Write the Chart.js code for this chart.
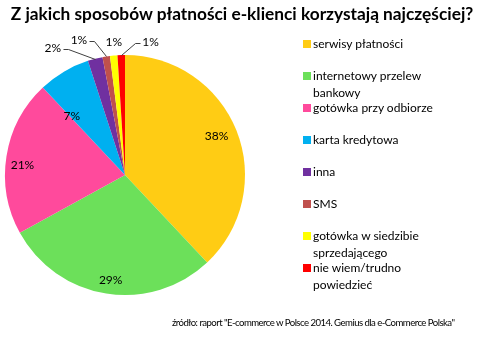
<!DOCTYPE html>
<html lang="pl">
<head>
<meta charset="utf-8">
<script src="https://cdn.jsdelivr.net/npm/chart.js@4/dist/chart.umd.min.js"></script>
<style>
  html, body { margin: 0; padding: 0; background: #fff; }
  #wrap { position: relative; width: 484px; height: 337px; overflow: hidden; font-family: Lato, "Open Sans", sans-serif; color: #000; }
  #chart { position: absolute; left: 0; top: 0; }
  #title { position: absolute; left: 0; top: 3px; width: 484px; text-align: center; font-weight: bold; font-size: 17.3px; white-space: nowrap; }
  #legend { position: absolute; left: 303px; top: 36px; font-size: 12px; line-height: 16.5px; }
  .item { position: absolute; left: 0; width: 170px; }
  .swatch { position: absolute; left: 0; top: 4px; width: 8px; height: 8px; }
  .lbl { position: absolute; left: 10px; white-space: nowrap; }
  #source { position: absolute; left: 172px; top: 317px; font-size: 9.6px; white-space: nowrap; }
</style>
</head>
<body>
<div id="wrap">
  <canvas id="chart" width="484" height="337"></canvas>
  <div id="title">Z jakich sposobów płatności e-klienci korzystają najczęściej?</div>
  <div id="legend"></div>
  <div id="source">źródło: raport "E-commerce w Polsce 2014. Gemius dla e-Commerce Polska"</div>
</div>
<script>
// Payment methods and their share of answers (%)
const categories = [
  ['serwisy płatności'],
  ['internetowy przelew', 'bankowy'],
  ['gotówka przy odbiorze'],
  ['karta kredytowa'],
  ['inna'],
  ['SMS'],
  ['gotówka w siedzibie', 'sprzedającego'],
  ['nie wiem/trudno', 'powiedzieć']
];
const shares = [38, 29, 21, 7, 2, 1, 1, 1];
const sliceColors = ['#FFCC14', '#6CE05A', '#FF4A9C', '#00B0F0', '#7030A0', '#C0504D', '#FFFF00', '#FF0000'];

// Label placement: labels inside the wide slices sit on the mid-angle ray
// (radial factor f, small nudge dx/dy); thin slices get elbowed callouts.
const insideLabels = {
  0: { f: 0.82, dx: 0, dy: -3 },
  1: { f: 0.87, dx: 2, dy: 2 },
  2: { f: 0.84, dx: -3, dy: 6 },
  3: { f: 0.64, dx: -14, dy: 7 }
};
const callouts = {
  4: { ex: -27, ey: -10, side: -1 },
  5: { ex: -12, ey: -15, side: -1 },
  6: { ex: 0, ey: -13, side: 0 },
  7: { ex: 14, ey: -12, side: 1 }
};

const sliceLabels = {
  id: 'sliceLabels',
  afterDatasetsDraw(chart) {
    const ctx = chart.ctx;
    const meta = chart.getDatasetMeta(0);
    const values = chart.data.datasets[0].data;
    ctx.save();
    ctx.font = '12px Lato, "Open Sans", sans-serif';
    ctx.fillStyle = '#000';
    ctx.strokeStyle = '#404040';
    ctx.lineWidth = 1;
    ctx.textBaseline = 'middle';
    meta.data.forEach((arc, i) => {
      const p = arc.getProps(['x', 'y', 'startAngle', 'endAngle', 'outerRadius'], true);
      const mid = (p.startAngle + p.endAngle) / 2;
      const text = values[i] + '%';
      const inside = insideLabels[i];
      if (inside) {
        const d = p.outerRadius * inside.f;
        ctx.textAlign = 'center';
        ctx.fillText(text, p.x + Math.cos(mid) * d + inside.dx, p.y + Math.sin(mid) * d + inside.dy);
        return;
      }
      const c = callouts[i];
      const ax = p.x + Math.cos(mid) * p.outerRadius;
      const ay = p.y + Math.sin(mid) * p.outerRadius;
      const ex = ax + c.ex, ey = ay + c.ey;
      if (c.side === 0) {
        ctx.textAlign = 'center';
        ctx.fillText(text, ex, ey);
        return;
      }
      const hx = ex + c.side * 5;
      ctx.beginPath();
      ctx.moveTo(Math.round(ax) + 0.5, Math.round(ay) + 0.5);
      ctx.lineTo(Math.round(ex) + 0.5, Math.round(ey) + 0.5);
      ctx.lineTo(Math.round(hx) + 0.5, Math.round(ey) + 0.5);
      ctx.stroke();
      ctx.textAlign = c.side < 0 ? 'right' : 'left';
      ctx.fillText(text, hx + c.side * 2, ey - 1);
    });
    ctx.restore();
  }
};

new Chart(document.getElementById('chart'), {
  type: 'pie',
  data: {
    labels: categories.map(l => l.join(' ')),
    datasets: [{
      data: shares,
      backgroundColor: sliceColors,
      borderWidth: 0
    }]
  },
  options: {
    responsive: false,
    animation: false,
    layout: { padding: { left: 5, top: 55, right: 239, bottom: 42 } },
    plugins: {
      legend: { display: false },
      title: { display: false },
      tooltip: { enabled: false }
    }
  },
  plugins: [sliceLabels]
});

// Legend beside the pie
const legend = document.getElementById('legend');
categories.forEach((lines, i) => {
  const item = document.createElement('div');
  item.className = 'item';
  item.style.top = (i * 32) + 'px';
  const sw = document.createElement('div');
  sw.className = 'swatch';
  sw.style.background = sliceColors[i];
  const lbl = document.createElement('div');
  lbl.className = 'lbl';
  lbl.innerHTML = lines.join('<br>');
  item.appendChild(sw);
  item.appendChild(lbl);
  legend.appendChild(item);
});

// Tighten the source line so it ends before the right edge
const source = document.getElementById('source');
const targetWidth = 283;
const extra = (targetWidth - source.scrollWidth) / source.textContent.length;
source.style.letterSpacing = extra.toFixed(2) + 'px';
</script>
</body>
</html>
